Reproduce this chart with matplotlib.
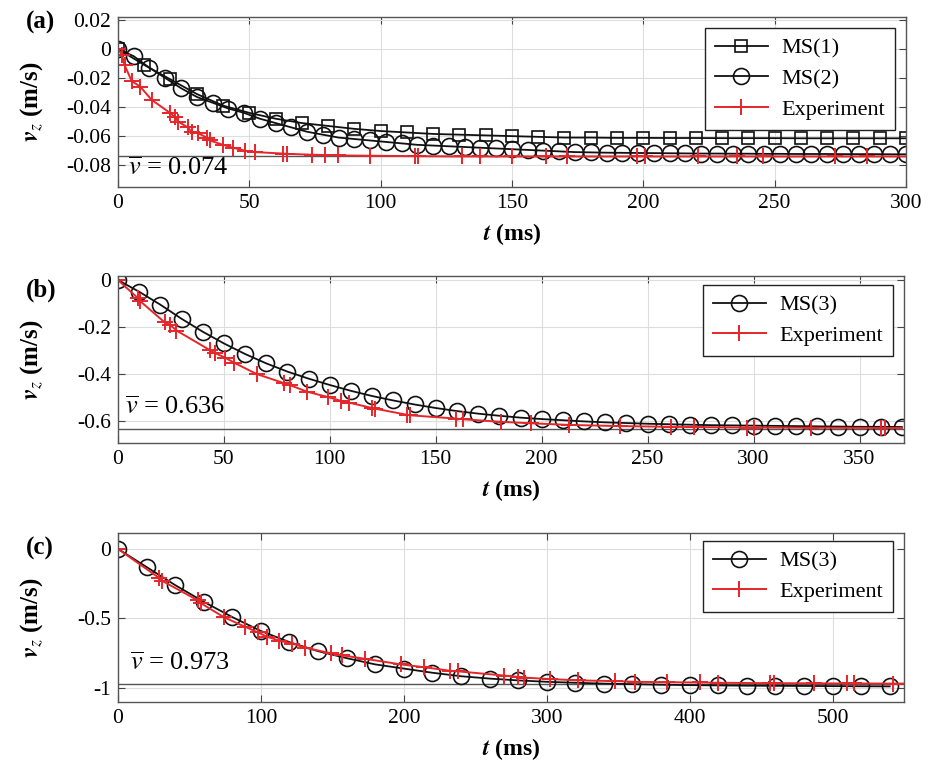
import matplotlib.pyplot as plt

plt.rcParams['font.family'] = ['Liberation Serif', 'DejaVu Serif']
plt.rcParams['mathtext.fontset'] = 'stix'
plt.rcParams['axes.unicode_minus'] = False
plt.rcParams['xtick.direction'] = 'in'
plt.rcParams['ytick.direction'] = 'in'

# ---- panel (a) ----
t_ms1 = list(range(0, 301, 10))
v_ms1 = [0, -0.011, -0.021, -0.031, -0.039, -0.044, -0.048, -0.051, -0.053, -0.055,
         -0.0565, -0.0575, -0.0585, -0.059, -0.0595, -0.060, -0.0605, -0.061, -0.061, -0.0612,
         -0.0612, -0.0613, -0.0613, -0.0614, -0.0614, -0.0614, -0.0615, -0.0615, -0.0615, -0.0615,
         -0.0615]

t_ms2 = list(range(0, 301, 6))
v_ms2 = [0, -0.005, -0.013, -0.020, -0.027, -0.033, -0.037, -0.041, -0.044, -0.048,
         -0.051, -0.054, -0.057, -0.059, -0.061, -0.062, -0.063, -0.064, -0.065, -0.066,
         -0.0665, -0.067, -0.0675, -0.068, -0.0685, -0.069, -0.0695, -0.070, -0.0705, -0.071,
         -0.0712, -0.0714, -0.0715, -0.0716, -0.0717, -0.0718, -0.0719, -0.0720, -0.0720, -0.0721,
         -0.0721, -0.0722, -0.0722, -0.0723, -0.0723, -0.0723, -0.0724, -0.0724, -0.0724, -0.0725,
         -0.0725]

t_exp_a = [0, 1.5, 2.5, 5.2, 8.5, 12.8, 19.8, 21.7, 22.9, 26.6, 28, 30.5, 33.8, 35, 40,
           43.8, 48.3, 52, 63, 64.3, 73.8, 78.8, 83.9, 96, 113, 114.3, 131, 138, 150, 163,
           171, 197.6, 200.6, 220.8, 235.6, 245.5, 273, 285, 300]
v_exp_a = [0, -0.004, -0.011, -0.022, -0.026, -0.035, -0.044, -0.047, -0.050, -0.054,
           -0.057, -0.058, -0.061, -0.063, -0.066, -0.068, -0.070, -0.071, -0.072, -0.0722,
           -0.0728, -0.073, -0.0733, -0.0735, -0.0738, -0.0738, -0.074, -0.074, -0.074, -0.074,
           -0.074, -0.074, -0.074, -0.074, -0.074, -0.074, -0.074, -0.074, -0.074]
vbar_a = 0.074

# ---- panel (b) ----
t_ms3_b = list(range(0, 371, 10))
v_ms3_b = [0, -0.05, -0.105, -0.165, -0.22, -0.27, -0.315, -0.355, -0.39, -0.42,
           -0.447, -0.472, -0.494, -0.513, -0.53, -0.545, -0.558, -0.569, -0.578, -0.586,
           -0.592, -0.597, -0.602, -0.606, -0.609, -0.612, -0.614, -0.616, -0.618, -0.619,
           -0.62, -0.621, -0.622, -0.623, -0.624, -0.625, -0.625, -0.626]

t_exp_b = [0, 9.4, 10.5, 22, 24.5, 27.6, 43.3, 45.6, 50.4, 55, 65.4, 78.6, 81, 89.4, 99,
           105.4, 109, 120, 121.5, 136.5, 138, 159.5, 163, 181, 195, 213, 237, 261, 272,
           297, 300, 327, 360, 362, 370]
v_exp_b = [0, -0.077, -0.09, -0.18, -0.19, -0.215, -0.298, -0.31, -0.33, -0.353, -0.40,
           -0.44, -0.447, -0.476, -0.498, -0.515, -0.522, -0.545, -0.548, -0.574, -0.576,
           -0.59, -0.593, -0.604, -0.61, -0.617, -0.622, -0.625, -0.626, -0.628, -0.628,
           -0.629, -0.63, -0.63, -0.63]
vbar_b = 0.636

# ---- panel (c) ----
t_ms3_c = list(range(0, 541, 20))
v_ms3_c = [0, -0.13, -0.26, -0.38, -0.49, -0.59, -0.67, -0.735, -0.785, -0.83,
           -0.86, -0.89, -0.915, -0.932, -0.945, -0.955, -0.962, -0.968, -0.972, -0.976,
           -0.979, -0.981, -0.983, -0.984, -0.985, -0.986, -0.987, -0.988]

t_exp_c = [0, 29, 31, 56, 58, 74, 89, 98, 104, 113, 122, 131, 149, 157, 173, 198, 214,
           232, 238, 270, 280, 284, 302, 322, 348, 362, 384, 407, 420, 456, 459, 487, 510,
           515, 542, 550]
v_exp_c = [0, -0.21, -0.23, -0.37, -0.39, -0.49, -0.56, -0.60, -0.63, -0.66, -0.68, -0.71,
           -0.75, -0.765, -0.79, -0.83, -0.85, -0.875, -0.88, -0.91, -0.92, -0.925, -0.935,
           -0.945, -0.95, -0.955, -0.958, -0.96, -0.962, -0.965, -0.965, -0.966, -0.967,
           -0.967, -0.968, -0.968]
vbar_c = 0.973

# tick values / labels
xticks_a = [0, 50, 100, 150, 200, 250, 300]
yticks_a = [-0.08, -0.06, -0.04, -0.02, 0, 0.02]
ylabels_a = ['-0.08', '-0.06', '-0.04', '-0.02', '0', '0.02']
xticks_b = [0, 50, 100, 150, 200, 250, 300, 350]
yticks_b = [-0.6, -0.4, -0.2, 0]
ylabels_b = ['-0.6', '-0.4', '-0.2', '0']
xticks_c = [0, 100, 200, 300, 400, 500]
yticks_c = [-1, -0.5, 0]
ylabels_c = ['-1', '-0.5', '0']

RED = '#e5262b'
BLK = '#111111'

fig = plt.figure(figsize=(9.31, 7.65), dpi=100)
ax_a = fig.add_axes([0.1267, 0.7556, 0.8464, 0.2222])
ax_b = fig.add_axes([0.1267, 0.4209, 0.8443, 0.2183])
ax_c = fig.add_axes([0.1267, 0.0824, 0.8443, 0.2210])


def style(ax, xlim, ylim, xt, yt, ylab):
    ax.set_xlim(*xlim)
    ax.set_ylim(*ylim)
    ax.set_xticks(xt)
    ax.set_xticklabels([str(v) for v in xt])
    ax.set_yticks(yt)
    ax.set_yticklabels(ylab)
    ax.tick_params(labelsize=15.5, length=5, width=0.8, color='#444444',
                   top=True, right=True, pad=5)
    ax.grid(True, color='#dddddd', linewidth=0.8)
    ax.set_axisbelow(True)
    for s in ax.spines.values():
        s.set_color('#555555')
        s.set_linewidth(1.0)
    ax.set_xlabel(r'$\mathbfit{t}$ (ms)', fontsize=17, fontweight='bold', labelpad=6)
    ax.set_ylabel(r'$\mathbfit{v}_{z}$ (m/s)', fontsize=18, fontweight='bold')
    ax.yaxis.set_label_coords(-0.093, 0.5)


def legend(ax, ytop):
    ax.legend(loc='upper right', bbox_to_anchor=(0.986, ytop), borderaxespad=0,
              fontsize=16, handlelength=2.4, handletextpad=0.6, labelspacing=0.45,
              borderpad=0.45, fancybox=False, edgecolor='#222222', framealpha=1)


# (a)
ax_a.axhline(-vbar_a, color='#555555', lw=1.0, zorder=1)
ax_a.plot(t_ms1, v_ms1, color=BLK, lw=1.3, marker='s', ms=8.5, mfc='none', mew=1.2, label='MS(1)')
ax_a.plot(t_ms2, v_ms2, color=BLK, lw=1.3, marker='o', ms=11.5, mfc='none', mew=1.2, label='MS(2)')
ax_a.plot(t_exp_a, v_exp_a, color=RED, lw=1.4, marker='+', ms=12, mew=1.4, label='Experiment',
          markevery=list(range(len(t_exp_a) - 1)))
ax_a.text(0.013, 0.11, r'$\overline{v}$ = ' + f'{vbar_a:.3f}', transform=ax_a.transAxes,
          fontsize=19, va='center', ha='left')
style(ax_a, (0, 300), (-0.095, 0.022), xticks_a, yticks_a, ylabels_a)
legend(ax_a, 0.935)

# (b)
ax_b.axhline(-vbar_b, color='#555555', lw=1.0, zorder=1)
ax_b.plot(t_ms3_b, v_ms3_b, color=BLK, lw=1.3, marker='o', ms=11.5, mfc='none', mew=1.2, label='MS(3)')
ax_b.plot(t_exp_b, v_exp_b, color=RED, lw=1.4, marker='+', ms=12, mew=1.4, label='Experiment',
          markevery=list(range(len(t_exp_b) - 1)))
ax_b.text(0.009, 0.21, r'$\overline{v}$ = ' + f'{vbar_b:.3f}', transform=ax_b.transAxes,
          fontsize=19, va='center', ha='left')
style(ax_b, (0, 371), (-0.694, 0.017), xticks_b, yticks_b, ylabels_b)
legend(ax_b, 0.946)

# (c)
ax_c.axhline(-vbar_c, color='#555555', lw=1.0, zorder=1)
ax_c.plot(t_ms3_c, v_ms3_c, color=BLK, lw=1.3, marker='o', ms=11.5, mfc='none', mew=1.2, label='MS(3)')
ax_c.plot(t_exp_c, v_exp_c, color=RED, lw=1.4, marker='+', ms=12, mew=1.4, label='Experiment',
          markevery=list(range(len(t_exp_c) - 1)))
ax_c.text(0.015, 0.23, r'$\overline{v}$ = ' + f'{vbar_c:.3f}', transform=ax_c.transAxes,
          fontsize=19, va='center', ha='left')
style(ax_c, (0, 550), (-1.10, 0.115), xticks_c, yticks_c, ylabels_c)
legend(ax_c, 0.953)

for lbl, y in [('(a)', 22), ('(b)', 290), ('(c)', 548)]:
    fig.text(26 / 931, 1 - y / 765, lbl, fontsize=18, fontweight='bold', ha='left', va='center')

fig.savefig('out.png', dpi=100)
